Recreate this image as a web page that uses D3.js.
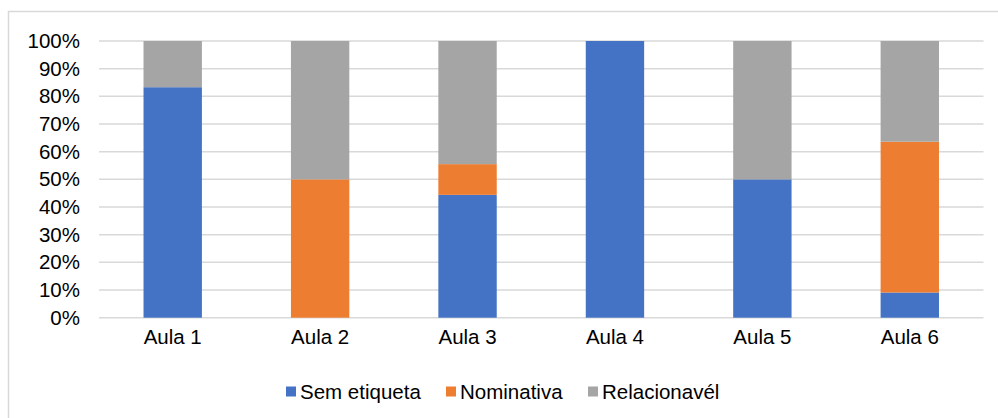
<!DOCTYPE html>
<html>
<head>
<meta charset="utf-8">
<script src="https://cdn.jsdelivr.net/npm/d3@7"></script>
<style>
  body { margin: 0; background: #fff; }
  svg { display: block; font-family: "Liberation Sans", Arial, sans-serif; }
</style>
</head>
<body>
<div id="chart"></div>
<script>
// data (percent of each lesson)
var aulas = ["Aula 1", "Aula 2", "Aula 3", "Aula 4", "Aula 5", "Aula 6"];
var semEtiqueta = [83.3, 0, 44.4, 100, 50, 9.1];
var nominativa = [0, 50, 11.1, 0, 0, 54.5];
var relacionavel = [16.7, 50, 44.5, 0, 50, 36.4];
var seriesNames = ["Sem etiqueta", "Nominativa", "Relacionavél"];
var yTicks = [0, 10, 20, 30, 40, 50, 60, 70, 80, 90, 100];

var colors = ["#4472C4", "#ED7D31", "#A5A5A5"];

var width = 998, height = 418;
var fontSize = "20.5px";

var svg = d3.select("#chart").append("svg")
    .attr("width", width)
    .attr("height", height);

// outer chart frame
svg.append("rect")
  .attr("x", 8.5).attr("y", 11.5)
  .attr("width", 1000).attr("height", 420)
  .attr("fill", "none")
  .attr("stroke", "#D9D9D9")
  .attr("stroke-width", 1.5);

var x = d3.scaleBand()
  .domain(aulas)
  .range([99, 983.5])
  .paddingInner(0.604)
  .paddingOuter(0.302);

var y = d3.scaleLinear()
  .domain([0, 100])
  .range([317.7, 41]);

// gridlines
svg.append("g")
  .attr("class", "grid")
  .selectAll("line")
  .data(yTicks)
  .enter().append("line")
  .attr("x1", 99)
  .attr("x2", 983.5)
  .attr("y1", function(d) { return y(d); })
  .attr("y2", function(d) { return y(d); })
  .attr("stroke", "#D9D9D9")
  .attr("stroke-width", 1.5);

// y axis labels
var yAxis = d3.axisLeft(y)
  .tickValues(yTicks)
  .tickSize(0)
  .tickPadding(19)
  .tickFormat(function(d) { return d + "%"; });

var gy = svg.append("g")
  .attr("transform", "translate(99,0)")
  .call(yAxis);
gy.select(".domain").remove();
gy.selectAll("text")
  .attr("font-family", "Liberation Sans, Arial, sans-serif")
  .attr("font-size", fontSize)
  .attr("fill", "#000");

// stacked data
var table = aulas.map(function(a, i) {
  return { aula: a, s0: semEtiqueta[i], s1: nominativa[i], s2: relacionavel[i] };
});
var stack = d3.stack().keys(["s0", "s1", "s2"]);
var layers = stack(table);

svg.append("g")
  .selectAll("g")
  .data(layers)
  .enter().append("g")
  .attr("fill", function(d, i) { return colors[i]; })
  .selectAll("rect")
  .data(function(d) { return d; })
  .enter().append("rect")
  .attr("x", function(d) { return x(d.data.aula); })
  .attr("width", x.bandwidth())
  .attr("y", function(d) { return y(d[1]); })
  .attr("height", function(d) { return y(d[0]) - y(d[1]); });

// x axis labels
var xAxis = d3.axisBottom(x)
  .tickSize(0)
  .tickPadding(12);

var gx = svg.append("g")
  .attr("transform", "translate(0,317.7)")
  .call(xAxis);
gx.select(".domain").remove();
gx.selectAll("text")
  .attr("font-family", "Liberation Sans, Arial, sans-serif")
  .attr("font-size", fontSize)
  .attr("fill", "#000");

// legend
var legendX = [286, 446, 588];
var legend = svg.append("g")
  .selectAll("g")
  .data(seriesNames)
  .enter().append("g")
  .attr("transform", function(d, i) { return "translate(" + legendX[i] + ",0)"; });

legend.append("rect")
  .attr("x", 0).attr("y", 386.5)
  .attr("width", 10).attr("height", 10)
  .attr("fill", function(d, i) { return colors[i]; });

legend.append("text")
  .attr("x", 14)
  .attr("y", 398.5)
  .attr("font-size", fontSize)
  .attr("fill", "#000")
  .text(function(d) { return d; });
</script>
</body>
</html>
